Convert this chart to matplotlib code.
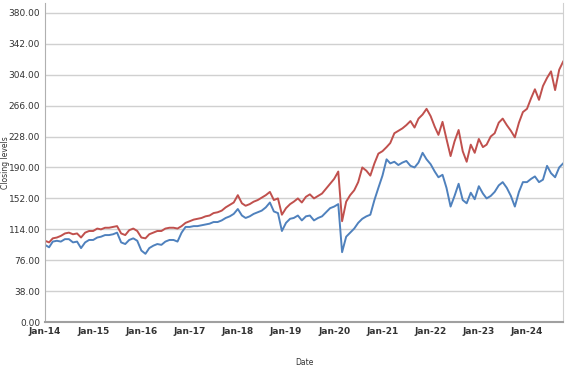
import matplotlib
matplotlib.use("Agg")
from matplotlib import pyplot as plt
import matplotlib.dates as mdates
import pandas as pd

# monthly closing levels, Jan 2014 .. Oct 2024
red_levels = [
    100, 98, 103, 104, 106, 109, 110, 108, 109, 104, 110, 112,   # 2014
    112, 115, 114, 116, 116, 117, 118, 109, 107, 113, 115, 112,   # 2015
    104, 103, 108, 110, 112, 112, 115, 116, 116, 115, 118, 122,   # 2016
    124, 126, 127, 128, 130, 131, 134, 135, 137, 141, 144, 147,   # 2017
    156, 146, 143, 145, 148, 150, 153, 156, 160, 150, 152, 132,   # 2018
    140, 145, 148, 152, 147, 154, 157, 152, 155, 158, 164, 170,   # 2019
    176, 185, 124, 148, 156, 162, 172, 190, 186, 180, 195, 207,   # 2020
    210, 215, 220, 232, 235, 238, 242, 247, 239, 250, 255, 262,   # 2021
    253, 240, 230, 246, 225, 204, 222, 236, 210, 197, 218, 208,   # 2022
    225, 215, 218, 228, 232, 245, 250, 242, 235, 227, 245, 258,   # 2023
    262, 275, 286, 273, 290, 300, 308, 285, 310, 320,             # 2024
]
blue_levels = [
    95, 92, 99, 100, 99, 102, 102, 98, 99, 91, 98, 101,           # 2014
    101, 104, 105, 107, 107, 108, 110, 98, 96, 101, 103, 100,     # 2015
    88, 84, 91, 94, 96, 95, 99, 101, 101, 99, 110, 117,           # 2016
    117, 118, 118, 119, 120, 121, 123, 123, 125, 128, 130, 133,   # 2017
    139, 131, 128, 130, 133, 135, 137, 141, 147, 136, 134, 112,   # 2018
    122, 127, 128, 131, 125, 130, 131, 125, 128, 130, 135, 140,   # 2019
    142, 145, 86, 105, 110, 115, 122, 127, 130, 132, 150, 165,    # 2020
    180, 200, 195, 197, 193, 196, 198, 192, 190, 196, 208, 200,   # 2021
    194, 185, 178, 181, 165, 142, 155, 170, 150, 146, 159, 151,   # 2022
    167, 158, 152, 155, 160, 168, 172, 165, 155, 142, 160, 172,   # 2023
    172, 176, 179, 172, 175, 192, 183, 178, 190, 195,             # 2024
]
dates = pd.date_range("2014-01-01", periods=len(red_levels), freq="MS")
y_ticks = [0, 38, 76, 114, 152, 190, 228, 266, 304, 342, 380]

fig = plt.figure(figsize=(5.77, 3.67), dpi=100)
ax = fig.add_axes([0.078, 0.122, 0.898, 0.870])

ax.plot(dates, blue_levels, color="#4f81bd", lw=1.4)
ax.plot(dates, red_levels, color="#c0504d", lw=1.4)

ax.set_ylim(0, 392)
ax.set_xlim(pd.Timestamp("2014-01-01"), pd.Timestamp("2024-10-01"))
ax.set_yticks(y_ticks)
ax.set_yticklabels([f"{v:.2f}" for v in y_ticks])
ax.xaxis.set_major_locator(mdates.YearLocator())
ax.xaxis.set_major_formatter(mdates.DateFormatter("%b-%y"))

ax.grid(axis="y", color="#d0d0d0", lw=1)
ax.set_axisbelow(True)
ax.tick_params(axis="both", length=0, labelsize=6.5, colors="#333333")
for lab in ax.get_xticklabels():
    lab.set_fontweight("bold")

ax.spines["top"].set_visible(False)
ax.spines["left"].set_color("#b0b0b0")
ax.spines["right"].set_color("#d0d0d0")
ax.spines["bottom"].set_color("#a0a0a0")
ax.spines["bottom"].set_linewidth(1.5)

ax.set_xlabel("Date", fontsize=5.5, color="#333333")
ax.xaxis.set_label_coords(0.5, -0.113)
ax.set_ylabel("Closing levels", fontsize=5.5, color="#333333")
ax.yaxis.set_label_coords(-0.068, 0.5)

fig.savefig("out.png", dpi=100)
